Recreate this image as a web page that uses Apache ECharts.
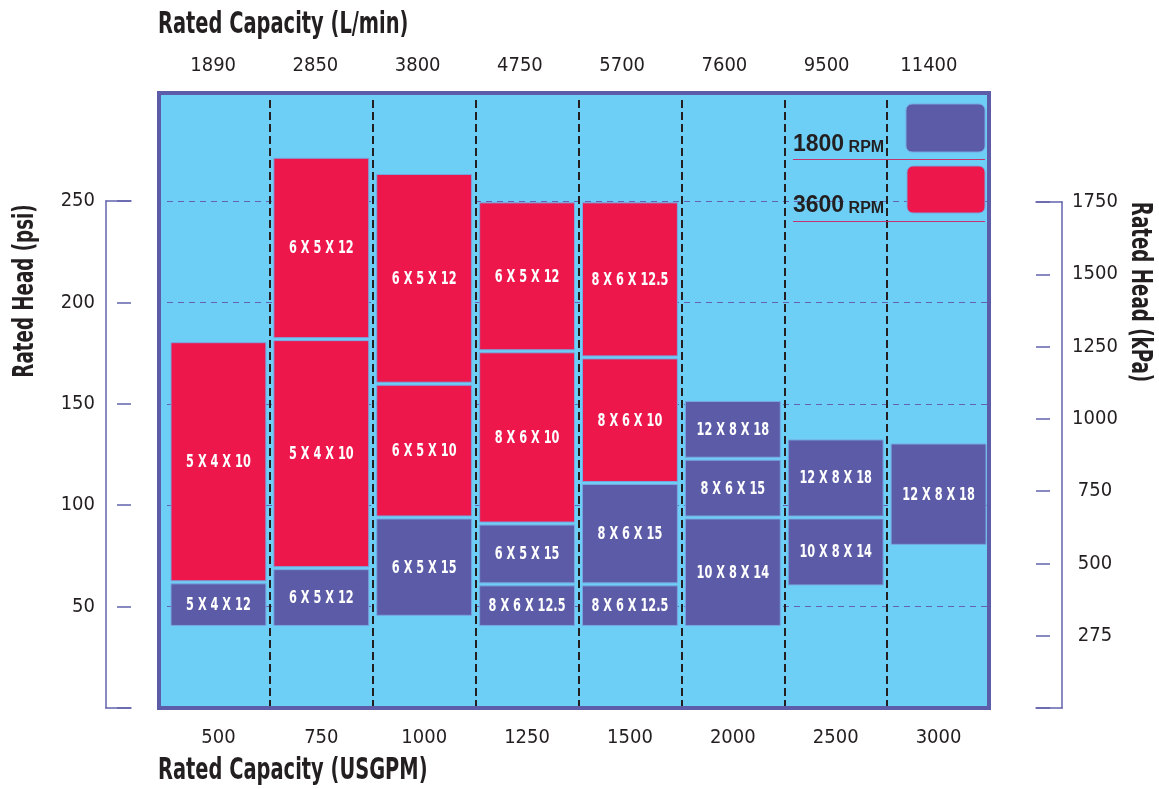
<!DOCTYPE html>
<html><head><meta charset="utf-8">
<script src="https://cdn.jsdelivr.net/npm/echarts@6/dist/echarts.min.js"></script>
<style>html,body{margin:0;padding:0;background:#fff}#chart{width:1159px;height:789px}</style>
</head><body><div id="chart"></div>
<script>
// ---------- data ----------
const gpmCategories = ['500','750','1000','1250','1500','2000','2500','3000'];
const lpmCategories = ['1890','2850','3800','4750','5700','7600','9500','11400'];
const kpaTickLabels = ['275','500','750','1000','1250','1500','1750']; // labels shown at 250..1750 kPa ticks

// 1800 RPM pumps (column index, low psi, high psi, model)
const rpm1800Col   = [0, 1, 2, 3, 3, 4, 4, 5, 5, 5, 6, 6, 7];
const rpm1800Low   = [40, 40, 45, 40, 61, 40, 61, 40, 94, 123, 60, 94, 80];
const rpm1800High  = [62, 69, 94, 61, 91, 61, 111, 94, 123, 152, 94, 133, 131];
const rpm1800Model = ['5 X 4 X 12','6 X 5 X 12','6 X 5 X 15','8 X 6 X 12.5','6 X 5 X 15','8 X 6 X 12.5','8 X 6 X 15','10 X 8 X 14','8 X 6 X 15','12 X 8 X 18','10 X 8 X 14','12 X 8 X 18','12 X 8 X 18'];

// 3600 RPM pumps
const rpm3600Col   = [0, 1, 1, 2, 2, 3, 3, 4, 4];
const rpm3600Low   = [62, 69, 182, 94, 160, 91, 176, 111, 173];
const rpm3600High  = [181, 182, 272, 160, 264, 176, 250, 173, 250];
const rpm3600Model = ['5 X 4 X 10','5 X 4 X 10','6 X 5 X 12','6 X 5 X 10','6 X 5 X 12','8 X 6 X 10','6 X 5 X 12','8 X 6 X 10','8 X 6 X 12.5'];

// ---------- style ----------
const FONT = '"DejaVu Sans Condensed","Liberation Sans Narrow",sans-serif';
const TXT = '#231f20';
const PURPLE = '#5b5ba7';
const RED = '#ed174c';
const SKY = '#6dcff6';
const AXISC = '#6163ad';

function renderer(models, fill) {
  return function (params, api) {
    const i = params.dataIndex;
    const c = api.value(0);
    const pLo = api.coord([c, api.value(1)]);
    const pHi = api.coord([c, api.value(2)]);
    const w = api.size([1, 0])[0] - 8;
    const top = pHi[1] + 1.5, h = pLo[1] - pHi[1] - 3;
    return {
      type: 'group',
      children: [
        { type: 'rect',
          shape: { x: pLo[0] - w / 2, y: top, width: w, height: h },
          style: { fill: fill, stroke: '#79a6e0', lineWidth: 1 } },
        { type: 'text', x: pLo[0], y: top + h / 2 + 1, scaleX: 0.74,
          style: { text: models[i], fill: '#ffffff', font: 'bold 17px ' + FONT,
                   align: 'center', verticalAlign: 'middle' } }
      ]
    };
  };
}

const labelStyle = { color: TXT, fontFamily: FONT, fontSize: 20 };
const capLine = { show: true, onZero: false, lineStyle: { color: AXISC, width: 1.5 } };
const noLine = { show: false, onZero: false };

const chart = echarts.init(document.getElementById('chart'), null, { renderer: 'canvas' });
chart.setOption({
  backgroundColor: '#ffffff',
  animation: false,
  grid: [
    { left: 167, right: 169, top: 100, bottom: 81 },
    { left: 162, right: 179, top: 100, bottom: 81 },
    { left: 106, right: 1028, top: 201, bottom: 81 },
    { left: 1036, right: 97, top: 202, bottom: 81 }
  ],
  xAxis: [
    { gridIndex: 0, type: 'category', data: gpmCategories, position: 'bottom',
      axisLine: noLine, axisTick: { show: false },
      axisLabel: Object.assign({ margin: 20 }, labelStyle),
      splitLine: { show: true, showMinLine: false, showMaxLine: false,
        lineStyle: { color: TXT, width: 2, type: [8, 4] } } },
    { gridIndex: 1, type: 'category', data: lpmCategories, position: 'top',
      axisLine: noLine, axisTick: { show: false },
      axisLabel: Object.assign({ margin: 24 }, labelStyle), splitLine: { show: false } },
    { gridIndex: 2, type: 'value', min: 0, max: 1, position: 'bottom',
      axisLine: capLine, axisTick: { show: false }, axisLabel: { show: false }, splitLine: { show: false } },
    { gridIndex: 2, type: 'value', min: 0, max: 1, position: 'top',
      axisLine: capLine, axisTick: { show: false }, axisLabel: { show: false }, splitLine: { show: false } },
    { gridIndex: 3, type: 'value', min: 0, max: 1, position: 'bottom',
      axisLine: capLine, axisTick: { show: false }, axisLabel: { show: false }, splitLine: { show: false } },
    { gridIndex: 3, type: 'value', min: 0, max: 1, position: 'top',
      axisLine: capLine, axisTick: { show: false }, axisLabel: { show: false }, splitLine: { show: false } }
  ],
  yAxis: [
    { gridIndex: 0, type: 'value', min: 0, max: 300, interval: 50,
      axisLine: noLine, axisTick: { show: false }, axisLabel: { show: false },
      splitLine: { show: true, showMinLine: false, showMaxLine: false,
        lineStyle: { color: '#6462b2', width: 1.2, type: [6, 5] } } },
    { gridIndex: 1, type: 'value', show: false, min: 0, max: 1, axisLine: noLine },
    { gridIndex: 2, type: 'value', min: 0, max: 250, interval: 50, position: 'left',
      axisLine: capLine, axisTick: { show: false }, splitLine: { show: false },
      axisLabel: Object.assign({ margin: 11, formatter: v => v === 0 ? '' : String(v) }, labelStyle) },
    { gridIndex: 2, type: 'value', min: 0, max: 250, interval: 50, position: 'right',
      axisLine: noLine, splitLine: { show: false }, axisLabel: { show: false },
      axisTick: { show: true, inside: true, length: 14, lineStyle: { color: AXISC, width: 1.5 } } },
    { gridIndex: 3, type: 'value', min: 0, max: 1750, interval: 250, position: 'right',
      axisLine: capLine, axisTick: { show: false }, splitLine: { show: false },
      axisLabel: Object.assign({ margin: 33, align: 'center',
        formatter: v => v === 0 ? '' : kpaTickLabels[v / 250 - 1] }, labelStyle) },
    { gridIndex: 3, type: 'value', min: 0, max: 1750, interval: 250, position: 'left',
      axisLine: noLine, splitLine: { show: false }, axisLabel: { show: false },
      axisTick: { show: true, inside: true, length: 14, lineStyle: { color: AXISC, width: 1.5 } } }
  ],
  series: [
    { name: '1800 RPM', type: 'custom', xAxisIndex: 0, yAxisIndex: 0, z: 5,
      renderItem: renderer(rpm1800Model, PURPLE),
      encode: { x: 0, y: [1, 2] },
      data: rpm1800Col.map((c, i) => [c, rpm1800Low[i], rpm1800High[i]]) },
    { name: '3600 RPM', type: 'custom', xAxisIndex: 0, yAxisIndex: 0, z: 5,
      renderItem: renderer(rpm3600Model, RED),
      encode: { x: 0, y: [1, 2] },
      data: rpm3600Col.map((c, i) => [c, rpm3600Low[i], rpm3600High[i]]) }
  ],
  graphic: [
    { type: 'rect', z: -10, silent: true, shape: { x: 157, y: 91, width: 834, height: 619 },
      style: { fill: SKY } },
    { type: 'rect', z: 50, silent: true, shape: { x: 159, y: 93, width: 830, height: 615 },
      style: { fill: 'none', stroke: '#5d5ca9', lineWidth: 4 } },
    // legend
    { type: 'rect', z: 60, silent: true, shape: { x: 906, y: 104, width: 79, height: 48, r: 6 },
      style: { fill: PURPLE, stroke: '#79a6e0', lineWidth: 1 } },
    { type: 'rect', z: 60, silent: true, shape: { x: 907, y: 166, width: 78, height: 47, r: 6 },
      style: { fill: RED, stroke: '#79a6e0', lineWidth: 1 } },
    { type: 'text', z: 60, silent: true, x: 793, y: 156,
      style: { text: '{a|1800}{b| RPM}', verticalAlign: 'bottom',
        rich: { a: { font: 'bold 23px "Liberation Sans",Arial,sans-serif', fill: TXT, verticalAlign: 'bottom' },
                b: { font: 'bold 16px "Liberation Sans",Arial,sans-serif', fill: TXT, verticalAlign: 'bottom' } } } },
    { type: 'text', z: 60, silent: true, x: 793, y: 217,
      style: { text: '{a|3600}{b| RPM}', verticalAlign: 'bottom',
        rich: { a: { font: 'bold 23px "Liberation Sans",Arial,sans-serif', fill: TXT, verticalAlign: 'bottom' },
                b: { font: 'bold 16px "Liberation Sans",Arial,sans-serif', fill: TXT, verticalAlign: 'bottom' } } } },
    { type: 'line', z: 60, silent: true, shape: { x1: 793, y1: 159.5, x2: 985, y2: 159.5 },
      style: { stroke: '#c4346f', lineWidth: 1 } },
    { type: 'line', z: 60, silent: true, shape: { x1: 793, y1: 221.5, x2: 985, y2: 221.5 },
      style: { stroke: '#c4346f', lineWidth: 1 } },
    // axis titles
    { type: 'text', silent: true, x: 158, y: 25, scaleX: 0.72,
      style: { text: 'Rated Capacity (L/min)', font: 'bold 30px ' + FONT, fill: TXT, verticalAlign: 'middle' } },
    { type: 'text', silent: true, x: 158, y: 771, scaleX: 0.72,
      style: { text: 'Rated Capacity (USGPM)', font: 'bold 30px ' + FONT, fill: TXT, verticalAlign: 'middle' } },
    { type: 'text', silent: true, x: 25, y: 291, rotation: Math.PI / 2, scaleX: 0.7,
      style: { text: 'Rated Head (psi)', font: 'bold 29px ' + FONT, fill: TXT, align: 'center', verticalAlign: 'middle' } },
    { type: 'text', silent: true, x: 1140, y: 292, rotation: -Math.PI / 2, scaleX: 0.7,
      style: { text: 'Rated Head (kPa)', font: 'bold 29px ' + FONT, fill: TXT, align: 'center', verticalAlign: 'middle' } }
  ]
});
</script></body></html>
